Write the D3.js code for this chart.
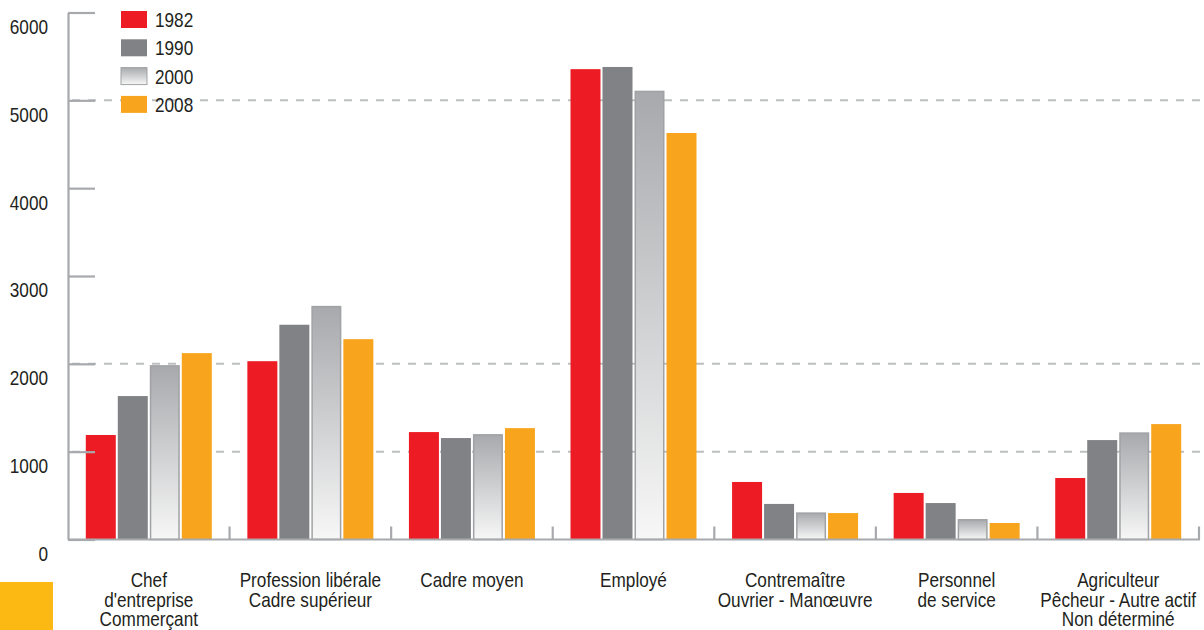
<!DOCTYPE html>
<html>
<head>
<meta charset="utf-8">
<script src="https://cdn.jsdelivr.net/npm/d3@7"></script>
<style>
  html, body { margin: 0; padding: 0; background: #fff; }
  svg { display: block; }
  text { font-family: "Liberation Sans", Arial, sans-serif; fill: #231f20; }
</style>
</head>
<body>
<svg id="chart" width="1204" height="630"></svg>
<script>
// ---- data ----
const categories = [
  ["Chef", "d'entreprise", "Commerçant"],
  ["Profession libérale", "Cadre supérieur"],
  ["Cadre moyen"],
  ["Employé"],
  ["Contremaître", "Ouvrier - Manœuvre"],
  ["Personnel", "de service"],
  ["Agriculteur", "Pêcheur - Autre actif", "Non déterminé"]
];
const years = ["1982", "1990", "2000", "2008"];
const values1982 = [1190, 2030, 1223, 5355, 655, 530, 700];
const values1990 = [1633, 2445, 1155, 5380, 405, 415, 1132];
const values2000 = [1985, 2660, 1200, 5110, 309, 233, 1220];
const values2008 = [2122, 2281, 1268, 4628, 301, 188, 1314];
const yTicks = [0, 1000, 2000, 3000, 4000, 5000, 6000];
const gridValues = [1000, 2000, 5000];

const series = [values1982, values1990, values2000, values2008];
const catKeys = categories.map(c => c.join(" "));

// ---- layout ----
const svg = d3.select("#chart");
const plotLeft = 68, plotRight = 1199, plotBase = 539.5, plotTop = 12.5;
const narrow = 0.86; // horizontal condensing of the text

const y = d3.scaleLinear().domain([0, 6000]).range([plotBase, plotTop]);
const x0 = d3.scaleBand().domain(catKeys).range([plotLeft, plotRight]).padding(0);
const groupW = 128;
const x1 = d3.scaleBand().domain(years).range([0, groupW]).paddingInner(0.0625).paddingOuter(0.03125);

const colors = { "1982": "#ed1c24", "1990": "#808285", "2000": "url(#grad2000)", "2008": "#f8a51d" };

const defs = svg.append("defs");
const grad = defs.append("linearGradient").attr("id", "grad2000")
  .attr("x1", 0).attr("y1", 0).attr("x2", 0).attr("y2", 1);
grad.append("stop").attr("offset", "0%").attr("stop-color", "#a7a9ac");
grad.append("stop").attr("offset", "100%").attr("stop-color", "#f7f7f7");

// yellow square bottom-left
svg.append("rect").attr("x", 0).attr("y", 582).attr("width", 53).attr("height", 48).attr("fill", "#fdb913");

// gridlines
svg.append("g").selectAll("line").data(gridValues).join("line")
  .attr("x1", plotLeft).attr("x2", 1204)
  .attr("y1", d => y(d)).attr("y2", d => y(d))
  .attr("stroke", "#bcbec0").attr("stroke-width", 2)
  .attr("stroke-dasharray", "8,8").attr("stroke-dashoffset", -4);

// bars
const groups = svg.append("g").selectAll("g").data(catKeys).join("g")
  .attr("transform", d => `translate(${x0(d) + (x0.bandwidth() - groupW) / 2},0)`);

groups.selectAll("rect").data((d, i) => years.map((yr, j) => ({ yr, v: series[j][i] }))).join("rect")
  .attr("x", d => x1(d.yr) + (d.yr === "2000" ? 0.75 : 0))
  .attr("width", d => x1.bandwidth() - (d.yr === "2000" ? 1.5 : 0))
  .attr("y", d => y(d.v) + (d.yr === "2000" ? 0.75 : 0))
  .attr("height", d => plotBase - y(d.v) - (d.yr === "2000" ? 0.75 : 0))
  .attr("fill", d => colors[d.yr])
  .attr("stroke", d => d.yr === "2000" ? "#a0a2a5" : "none")
  .attr("stroke-width", 1.5);

// y axis
const yAxis = d3.axisLeft(y).tickValues(yTicks).tickSizeInner(-27).tickSizeOuter(0).tickPadding(20)
  .tickFormat(d3.format("d"));
const yg = svg.append("g").attr("transform", `translate(${plotLeft},0)`).call(yAxis);
yg.select(".domain").attr("stroke", "#a7a9ac").attr("stroke-width", 2.2);
yg.selectAll(".tick line").attr("stroke", "#a7a9ac").attr("stroke-width", 2.2);
yg.selectAll(".tick text").attr("font-size", 20).attr("dy", "1.05em")
  .attr("x", -20 / narrow).attr("transform", `scale(${narrow},1)`)
  .style("font-family", '"Liberation Sans", Arial, sans-serif').attr("fill", "#231f20");

// x axis
const xAxis = d3.axisBottom(x0).tickSize(0).tickFormat("");
const xg = svg.append("g").attr("transform", `translate(0,${plotBase})`).call(xAxis);
xg.select(".domain").attr("stroke", "#a7a9ac").attr("stroke-width", 2.2).attr("d", `M${plotLeft},0H${plotRight + 1}`);
xg.selectAll(".tick").remove();

// category boundary ticks
svg.append("g").selectAll("line").data(catKeys).join("line")
  .attr("x1", d => x0(d) + x0.bandwidth()).attr("x2", d => x0(d) + x0.bandwidth())
  .attr("y1", plotBase).attr("y2", plotBase - 13)
  .attr("stroke", "#a7a9ac").attr("stroke-width", 2.2);

// category labels
const lbl = svg.append("g").selectAll("text").data(categories).join("text")
  .attr("text-anchor", "middle").attr("font-size", 20)
  .attr("transform", (d, i) => `translate(${x0(catKeys[i]) + x0.bandwidth() / 2},587) scale(${narrow},1)`);
lbl.selectAll("tspan").data(d => d).join("tspan")
  .attr("x", 0).attr("y", (d, i) => i * 19.6).text(d => d);

// legend
const leg = svg.append("g").selectAll("g").data(years).join("g")
  .attr("transform", (d, i) => `translate(121,${11 + i * 28.3})`);
leg.append("rect").attr("width", 26).attr("height", 17)
  .attr("fill", d => colors[d])
  .attr("stroke", d => d === "2000" ? "#a0a2a5" : "none").attr("stroke-width", 1);
leg.append("text").attr("transform", `translate(34,16) scale(${narrow},1)`).attr("font-size", 20).text(d => d);
</script>
</body>
</html>
